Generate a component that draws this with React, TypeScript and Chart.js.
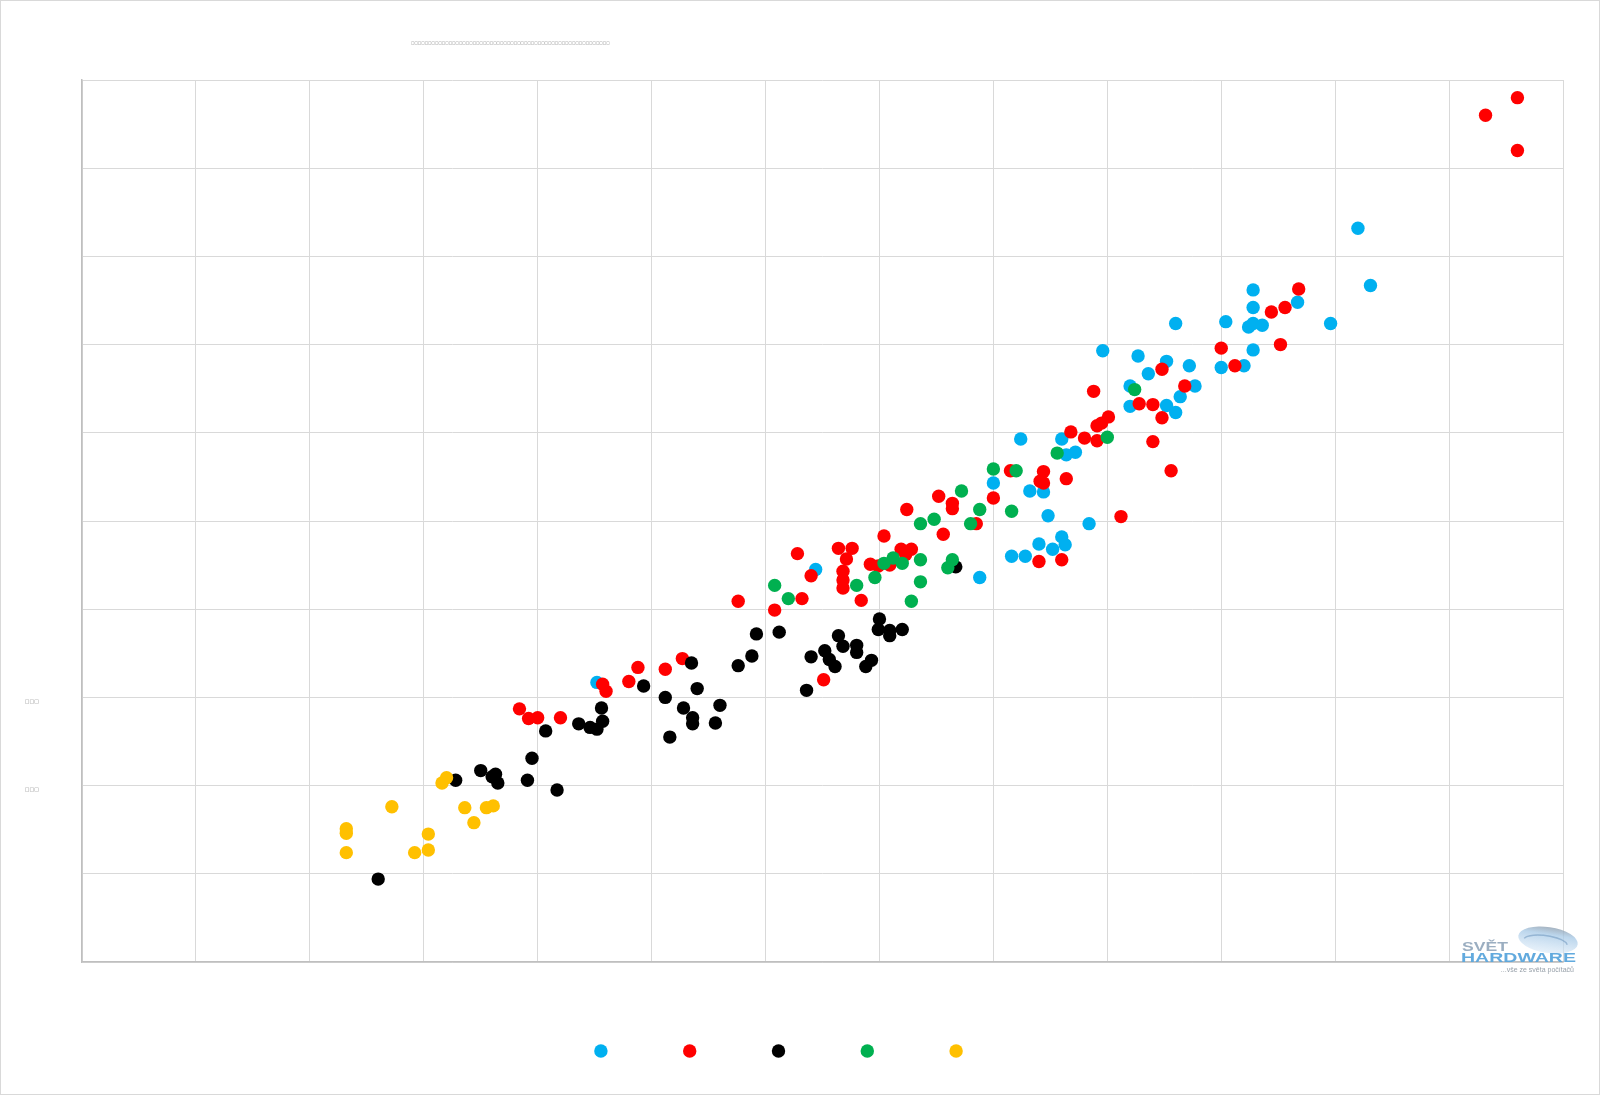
import React, { useEffect, useRef } from 'react';
import { Chart, registerables } from 'chart.js';

Chart.register(...registerables);

// ---- data (grid units: x 0..13, y 0..10) ----
const seriesNames = ['', '', '', '', ''];
const seriesColors = ['#00B0F0', '#FF0000', '#000000', '#00B050', '#FFC000'];
const seriesOrder = [5, 4, 3, 2, 1];

const blueSeries: [number, number][] = [
  [6.44, 4.45], [7.88, 4.36], [8.0, 5.43], [8.16, 4.6], [8.28, 4.6], [8.4, 4.74], [8.48, 5.06],
  [8.52, 4.68], [8.6, 4.82], [8.63, 4.73], [8.32, 5.34], [8.44, 5.33], [8.24, 5.93], [8.6, 5.93],
  [8.64, 5.75], [8.72, 5.78], [8.84, 4.97], [9.2, 6.3], [9.52, 6.31], [9.6, 6.23], [8.96, 6.93],
  [9.27, 6.87], [9.52, 6.81], [9.36, 6.67], [9.6, 7.24], [9.72, 6.76], [9.2, 6.53], [9.64, 6.41],
  [9.77, 6.53], [10.04, 7.26], [10.0, 6.74], [10.2, 6.76], [10.28, 7.62], [10.28, 7.42],
  [10.24, 7.2], [10.28, 7.24], [10.36, 7.22], [10.28, 6.94], [10.67, 7.48], [10.96, 7.24],
  [11.31, 7.67], [11.2, 8.32], [4.52, 3.17],
];

const redSeries: [number, number][] = [
  [3.84, 2.87], [3.92, 2.76], [4.0, 2.77], [4.2, 2.77], [4.57, 3.15], [4.6, 3.07], [4.8, 3.18],
  [4.88, 3.34], [5.12, 3.32], [5.27, 3.44], [5.76, 4.09], [6.08, 3.99], [6.32, 4.12], [6.51, 3.2],
  [6.28, 4.63], [6.4, 4.38], [6.64, 4.69], [6.76, 4.69], [6.71, 4.57], [6.68, 4.43], [6.68, 4.33],
  [6.68, 4.24], [6.84, 4.1], [6.92, 4.51], [6.99, 4.49], [7.04, 4.83], [7.09, 4.5], [7.19, 4.68],
  [7.28, 4.68], [7.23, 4.62], [7.24, 5.13], [7.52, 5.28], [7.64, 5.2], [7.64, 5.14], [7.56, 4.85],
  [7.85, 4.97], [8.0, 5.26], [8.4, 4.54], [8.6, 4.56], [8.15, 5.57], [8.44, 5.56], [8.41, 5.45],
  [8.44, 5.43], [8.64, 5.48], [8.68, 6.01], [8.8, 5.94], [8.91, 6.08], [8.95, 6.11], [9.01, 6.18],
  [8.91, 5.91], [9.12, 5.05], [9.28, 6.33], [9.4, 6.32], [9.48, 6.17], [9.4, 5.9], [9.56, 5.57],
  [8.88, 6.47], [9.48, 6.72], [9.68, 6.53], [10.0, 6.96], [10.12, 6.76], [10.44, 7.37],
  [10.56, 7.42], [10.68, 7.63], [10.52, 7.0], [12.32, 9.6], [12.6, 9.8], [12.6, 9.2],
];

const blackSeries: [number, number][] = [
  [2.6, 0.94], [3.28, 2.06], [3.5, 2.17], [3.6, 2.1], [3.63, 2.13], [3.65, 2.03], [3.91, 2.06],
  [3.95, 2.31], [4.17, 1.95], [4.07, 2.62], [4.36, 2.7], [4.46, 2.66], [4.52, 2.64], [4.57, 2.73],
  [4.56, 2.88], [4.93, 3.13], [5.12, 3.0], [5.28, 2.88], [5.36, 2.77], [5.36, 2.7], [5.16, 2.55],
  [5.35, 3.39], [5.4, 3.1], [5.6, 2.91], [5.56, 2.71], [5.76, 3.36], [5.88, 3.47], [5.92, 3.72],
  [6.12, 3.74], [6.4, 3.46], [6.36, 3.08], [6.52, 3.53], [6.56, 3.43], [6.61, 3.35], [6.64, 3.7],
  [6.68, 3.58], [6.8, 3.59], [6.8, 3.51], [6.88, 3.35], [6.93, 3.42], [7.0, 3.89], [6.99, 3.77],
  [7.09, 3.76], [7.09, 3.7], [7.2, 3.77], [7.67, 4.48],
];

const greenSeries: [number, number][] = [
  [6.08, 4.27], [6.2, 4.12], [6.8, 4.27], [6.96, 4.36], [7.04, 4.52], [7.12, 4.58], [7.2, 4.52],
  [7.36, 4.56], [7.36, 4.31], [7.28, 4.09], [7.36, 4.97], [7.48, 5.02], [7.6, 4.47], [7.64, 4.56],
  [7.72, 5.34], [7.88, 5.13], [7.8, 4.97], [8.16, 5.11], [8.0, 5.59], [8.2, 5.57], [8.56, 5.77],
  [9.0, 5.95], [9.24, 6.49],
];

const yellowSeries: [number, number][] = [
  [2.32, 1.51], [2.32, 1.46], [2.32, 1.24], [2.72, 1.76], [2.92, 1.24], [3.04, 1.45], [3.04, 1.27],
  [3.16, 2.03], [3.2, 2.09], [3.36, 1.75], [3.44, 1.58], [3.55, 1.75], [3.61, 1.77],
];

const allSeries = [blueSeries, redSeries, blackSeries, greenSeries, yellowSeries];

const xRange = [0, 13];
const yRange = [0, 10];
const yTickLabels: Record<number, string> = { 2: '□□□', 3: '□□□' };
const titleText = '□'.repeat(58);
const logoTop = 'SVĚT';
const logoBottom = 'HARDWARE';
const logoTagline = '...vše ze světa počítačů';

const decorPlugin = {
  id: 'decor',
  afterDraw(chart: any) {
    const ctx: CanvasRenderingContext2D = chart.ctx;
    const ca = chart.chartArea;
    ctx.save();
    // outer frame
    ctx.strokeStyle = '#d9d9d9';
    ctx.lineWidth = 1;
    ctx.strokeRect(0.5, 0.5, chart.width - 1, chart.height - 1);

    // title (tofu boxes)
    ctx.font = '10px "DejaVu Sans"';
    const w10 = ctx.measureText(titleText).width;
    const fs = (10 * 200) / w10;
    ctx.font = `${fs}px "DejaVu Sans"`;
    ctx.fillStyle = '#6f6f6f';
    ctx.textAlign = 'left';
    ctx.textBaseline = 'middle';
    ctx.fillText(titleText, 411, 43);

    // watermark logo
    const lx = ca.right - 101;
    const ly = ca.bottom;
    ctx.save();
    ctx.translate(ca.right - 15, ly - 22);
    ctx.rotate(0.15);
    const g = ctx.createLinearGradient(0, -14, 0, 14);
    g.addColorStop(0, 'rgba(140,155,170,0.8)');
    g.addColorStop(0.3, 'rgba(165,200,230,0.75)');
    g.addColorStop(1, 'rgba(215,232,247,0.55)');
    ctx.fillStyle = g;
    ctx.beginPath();
    ctx.ellipse(0, 0, 30, 13, 0, 0, Math.PI * 2);
    ctx.fill();
    ctx.strokeStyle = 'rgba(110,150,190,0.55)';
    ctx.lineWidth = 1.5;
    ctx.beginPath();
    ctx.ellipse(-2, 3, 22, 7, 0, Math.PI * 1.05, Math.PI * 1.95);
    ctx.stroke();
    ctx.restore();

    ctx.textAlign = 'left';
    ctx.textBaseline = 'alphabetic';
    ctx.font = 'bold 15px "Liberation Sans"';
    ctx.fillStyle = 'rgba(150,170,190,0.95)';
    let tw = ctx.measureText(logoTop).width;
    ctx.save();
    ctx.translate(lx, ly - 11);
    ctx.scale(46 / tw, 0.85);
    ctx.fillText(logoTop, 0, 0);
    ctx.restore();

    ctx.fillStyle = 'rgba(90,165,220,0.95)';
    tw = ctx.measureText(logoBottom).width;
    ctx.save();
    ctx.translate(lx - 1, ly);
    ctx.scale(115 / tw, 0.9);
    ctx.fillText(logoBottom, 0, 0);
    ctx.restore();

    ctx.font = '7px "Liberation Sans"';
    ctx.fillStyle = 'rgba(140,150,160,0.9)';
    ctx.textAlign = 'right';
    ctx.fillText(logoTagline, lx + 112, ly + 10);

    ctx.restore();
  },
};

export default function App() {
  const canvasRef = useRef<HTMLCanvasElement | null>(null);

  useEffect(() => {
    if (!canvasRef.current) return;
    const datasets = allSeries.map((s, i) => ({
      label: seriesNames[i],
      data: s.map(([x, y]) => ({ x, y })),
      backgroundColor: seriesColors[i],
      borderColor: seriesColors[i],
      borderWidth: 0,
      pointRadius: 6.7,
      pointHoverRadius: 6.7,
      order: seriesOrder[i],
    }));

    const chart = new Chart(canvasRef.current, {
      type: 'scatter',
      data: { datasets },
      plugins: [decorPlugin],
      options: {
        animation: false,
        responsive: false,
        events: [],
        layout: { padding: { left: 0, right: 37, top: 80, bottom: 28 } },
        plugins: {
          title: { display: false },
          tooltip: { enabled: false },
          legend: {
            display: true,
            position: 'bottom',
            labels: {
              usePointStyle: true,
              boxWidth: 13.4,
              boxHeight: 9.5,
              padding: 70.8,
              font: { size: 12, family: 'Liberation Sans' },
              color: '#595959',
              generateLabels: (c: any) =>
                c.data.datasets.map((ds: any, i: number) => ({
                  text: seriesNames[i],
                  fillStyle: ds.backgroundColor,
                  strokeStyle: ds.backgroundColor,
                  lineWidth: 0,
                  pointStyle: 'circle',
                  hidden: false,
                  datasetIndex: i,
                  fontColor: '#595959',
                })),
            },
          },
        },
        scales: {
          x: {
            type: 'linear',
            min: xRange[0],
            max: xRange[1],
            ticks: { display: false, stepSize: 1 },
            grid: { color: '#d9d9d9', lineWidth: 1, drawTicks: false },
            border: { color: '#bfbfbf', width: 1.5 },
            afterFit: (s: any) => {
              s.height = 12.2;
            },
          },
          y: {
            type: 'linear',
            min: yRange[0],
            max: yRange[1],
            ticks: {
              stepSize: 1,
              padding: 43,
              labelOffset: 4.5,
              autoSkip: false,
              color: '#808080',
              font: { size: 5, family: 'DejaVu Sans' },
              callback: (v: any) => yTickLabels[Number(v)] ?? '',
            },
            grid: { color: '#d9d9d9', lineWidth: 1, drawTicks: false },
            border: { color: '#bfbfbf', width: 1.5 },
            afterFit: (s: any) => {
              s.width = 82;
            },
          },
        },
      },
    } as any);
    return () => chart.destroy();
  }, []);

  return (
    <div style={{ position: 'absolute', left: 0, top: 0, width: 1600, height: 1095, background: '#fff' }}>
      <canvas ref={canvasRef} width={1600} height={1095} style={{ display: 'block' }} />
    </div>
  );
}
